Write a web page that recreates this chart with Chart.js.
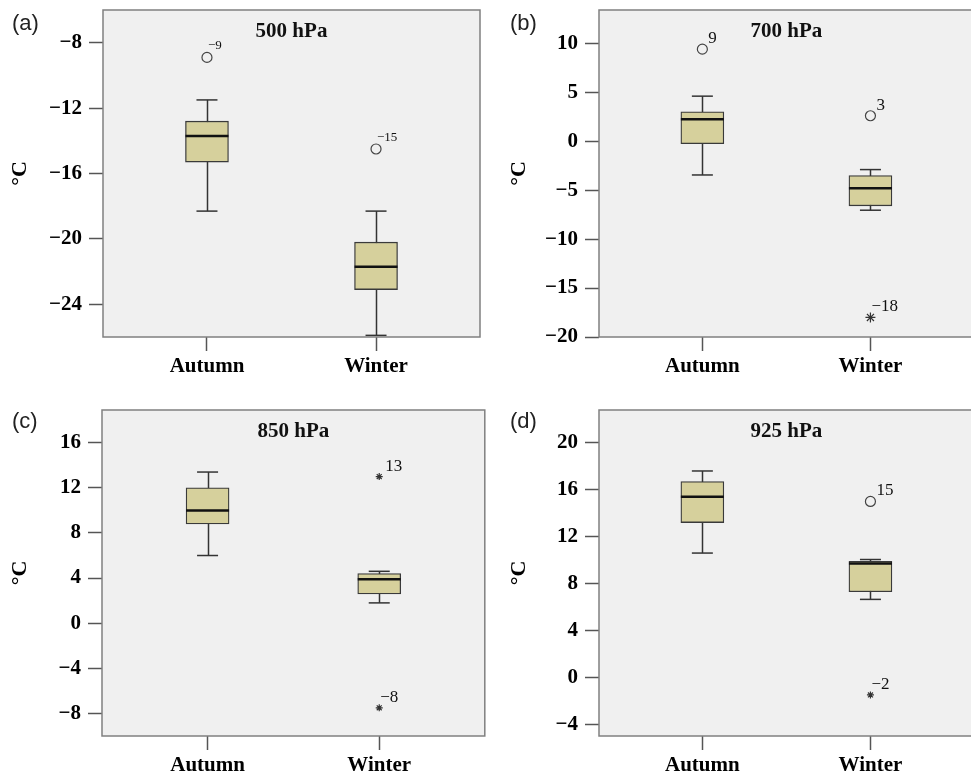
<!DOCTYPE html>
<html>
<head>
<meta charset="utf-8">
<script src="https://cdn.jsdelivr.net/npm/chart.js@4.4.1/dist/chart.umd.min.js"></script>
<style>
 body { margin: 0; background: #fff; }
 #wrap { position: relative; width: 971px; height: 776px; overflow: hidden; }
 .panel { position: absolute; }
 .tag { position: absolute; font: 22px "Liberation Sans", Arial, sans-serif; color: #222; line-height: 1; }
</style>
</head>
<body>
<div id="wrap"></div>
<script>
const panelLetters = ["(a)", "(b)", "(c)", "(d)"];
const levels = ["500 hPa", "700 hPa", "850 hPa", "925 hPa"];
const seasons = ["Autumn", "Winter"];
// each row is one level, [Autumn, Winter]
const whiskerLow  = [[-18.3, -25.9], [-3.45, -7.05], [6.0, 1.8], [10.6, 6.65]];
const q1          = [[-15.3, -23.1], [-0.25, -6.6], [8.8, 2.6], [13.2, 7.3]];
const median      = [[-13.7, -21.7], [2.25, -4.8], [10.0, 3.9], [15.4, 9.7]];
const q3          = [[-12.8, -20.2], [3.0, -3.5], [12.0, 4.4], [16.7, 9.9]];
const whiskerHigh = [[-11.5, -18.3], [4.6, -2.9], [13.4, 4.6], [17.6, 10.05]];
// [season index, value, case label]
const outliers = [[[0, -8.9, "−9"], [1, -14.5, "−15"]], [[0, 9.4, "9"], [1, 2.6, "3"]], [], [[1, 15.0, "15"]]];
const extremes = [[], [[1, -18.0, "−18"]], [[1, 13.0, "13"], [1, -7.5, "−8"]], [[1, -1.5, "−2"]]];
const yTicks = [[-8, -12, -16, -20, -24], [10, 5, 0, -5, -10, -15, -20], [16, 12, 8, 4, 0, -4, -8], [20, 16, 12, 8, 4, 0, -4]];
const yMin = [-26, -20, -10, -5];
const yMax = [-6, 13.4, 18.9, 22.8];

const layout = [
 { left: 0, top: 0, w: 490, h: 385, yW: 103, padR: 10, padT: 10, xH: 48, titlePad: 7, tagX: 12, tagY: 12, caseFont: 13, caseDy: -8, starR: 4 },
 { left: 490, top: 0, w: 490, h: 385, yW: 109, padR: 4, padT: 10, xH: 48, titlePad: 16, tagX: 510, tagY: 12, caseFont: 17, caseDy: -6, starR: 5 },
 { left: 0, top: 385, w: 490, h: 391, yW: 102, padR: 3, padT: 25, xH: 40, titlePad: 7, tagX: 12, tagY: 410, caseFont: 17, caseDy: -6, starR: 3.5 },
 { left: 490, top: 385, w: 490, h: 391, yW: 109, padR: 4, padT: 25, xH: 40, titlePad: 16, tagX: 510, tagY: 410, caseFont: 17, caseDy: -6, starR: 3.5 }
];

const serif = '"Liberation Serif", "Times New Roman", serif';
const fmt = v => String(v).replace("-", "−");

const boxPlugin = {
 id: "box",
 beforeDraw(chart) {
 const a = chart.chartArea, ctx = chart.ctx;
 ctx.save();
 ctx.fillStyle = "#f0f0f0";
 ctx.fillRect(a.left, a.top, a.right - a.left, a.bottom - a.top);
 ctx.restore();
 },
 beforeDatasetsDraw(chart, args, opts) {
 const p = opts.p, ctx = chart.ctx;
 const xs = chart.scales.x, ys = chart.scales.y;
 ctx.save();
 ctx.strokeStyle = "#333";
 ctx.lineWidth = 1.5;
 seasons.forEach((s, i) => {
 const x = Math.round(xs.getPixelForValue(i)) + 0.5;
 ctx.beginPath();
 ctx.moveTo(x, ys.getPixelForValue(whiskerLow[p][i]));
 ctx.lineTo(x, ys.getPixelForValue(whiskerHigh[p][i]));
 ctx.stroke();
 });
 ctx.restore();
 },
 afterDatasetsDraw(chart, args, opts) {
 const p = opts.p, L = layout[p], ctx = chart.ctx;
 const xs = chart.scales.x, ys = chart.scales.y, a = chart.chartArea;
 ctx.save();
 seasons.forEach((s, i) => {
 const x = xs.getPixelForValue(i);
 ctx.strokeStyle = "#333";
 ctx.lineWidth = 1.5;
 [whiskerLow[p][i], whiskerHigh[p][i]].forEach(v => {
 const y = ys.getPixelForValue(v);
 ctx.beginPath();
 ctx.moveTo(x - 10.5, y);
 ctx.lineTo(x + 10.5, y);
 ctx.stroke();
 });
 const ym = ys.getPixelForValue(median[p][i]);
 ctx.strokeStyle = "#111";
 ctx.lineWidth = 2.5;
 ctx.beginPath();
 ctx.moveTo(x - 21.5, ym);
 ctx.lineTo(x + 21.5, ym);
 ctx.stroke();
 });
 // frame
 ctx.strokeStyle = "#808080";
 ctx.lineWidth = 1.5;
 ctx.strokeRect(a.left, a.top, a.right - a.left, a.bottom - a.top);
 // level title
 ctx.fillStyle = "#111";
 ctx.font = "bold 21px " + serif;
 ctx.textAlign = "center";
 ctx.textBaseline = "alphabetic";
 ctx.fillText(levels[p], (a.left + a.right) / 2, a.top + 27);
 // case numbers
 ctx.font = L.caseFont + "px " + serif;
 ctx.textAlign = "left";
 outliers[p].concat(extremes[p]).forEach(([i, v, lab]) => {
 const x = xs.getPixelForValue(i), y = ys.getPixelForValue(v);
 ctx.fillText(lab, x + (lab.startsWith("−") ? 1 : 6), y + L.caseDy);
 });
 ctx.restore();
 }
};

const wrap = document.getElementById("wrap");

layout.forEach((L, p) => {
 const div = document.createElement("div");
 div.className = "panel";
 div.style.left = L.left + "px";
 div.style.top = L.top + "px";
 const cv = document.createElement("canvas");
 cv.width = L.w;
 cv.height = L.h;
 div.appendChild(cv);
 wrap.appendChild(div);

 const tag = document.createElement("div");
 tag.className = "tag";
 tag.style.left = L.tagX + "px";
 tag.style.top = L.tagY + "px";
 tag.textContent = panelLetters[p];
 wrap.appendChild(tag);

 new Chart(cv.getContext("2d"), {
 type: "bar",
 data: {
 datasets: [
 {
 type: "bar",
 data: seasons.map((s, i) => ({ x: i, y: [q1[p][i], q3[p][i]] })),
 backgroundColor: "#d6d09c",
 borderColor: "#3a3a3a",
 borderWidth: 1.3,
 borderSkipped: false,
 barThickness: 43
 },
 {
 type: "scatter",
 data: outliers[p].map(([i, v]) => ({ x: i, y: v })),
 pointStyle: "circle",
 pointRadius: 5,
 backgroundColor: "rgba(0,0,0,0)",
 borderColor: "#444",
 borderWidth: 1.2
 },
 {
 type: "scatter",
 data: extremes[p].map(([i, v]) => ({ x: i, y: v })),
 pointStyle: "star",
 pointRadius: L.starR,
 borderColor: "#333",
 borderWidth: 1.2
 }
 ]
 },
 options: {
 responsive: false,
 animation: false,
 layout: { padding: { left: 0, right: L.padR, top: L.padT, bottom: 0 } },
 plugins: { legend: { display: false }, tooltip: { enabled: false }, box: { p } },
 scales: {
 x: {
 type: "linear",
 min: -0.615,
 max: 1.615,
 offset: false,
 afterBuildTicks: s => { s.ticks = seasons.map((c, i) => ({ value: i })); },
 afterFit: s => { s.height = L.xH; s.paddingLeft = 0; s.paddingRight = 0; },
 ticks: {
 color: "#000",
 padding: 3,
 maxRotation: 0,
 font: { family: serif, weight: "bold", size: 21 },
 callback: v => seasons[v]
 },
 grid: { display: true, offset: false, drawOnChartArea: false, tickLength: 14, tickColor: "#555", tickWidth: 1.5 },
 border: { display: false }
 },
 y: {
 type: "linear",
 min: yMin[p],
 max: yMax[p],
 afterBuildTicks: s => { s.ticks = yTicks[p].map(v => ({ value: v })); },
 afterFit: s => { s.width = L.yW; s.paddingTop = 0; s.paddingBottom = 0; },
 ticks: {
 color: "#000",
 padding: 7,
 font: { family: serif, weight: "bold", size: 21 },
 callback: v => fmt(v)
 },
 grid: { display: true, drawOnChartArea: false, tickLength: 14, tickColor: "#555", tickWidth: 1.5 },
 border: { display: false },
 title: {
 display: true,
 text: "°C",
 color: "#000",
 font: { family: serif, weight: "bold", size: 22 },
 padding: { top: L.titlePad, bottom: 0 }
 }
 }
 }
 },
 plugins: [boxPlugin]
 });
});
</script>
</body>
</html>
